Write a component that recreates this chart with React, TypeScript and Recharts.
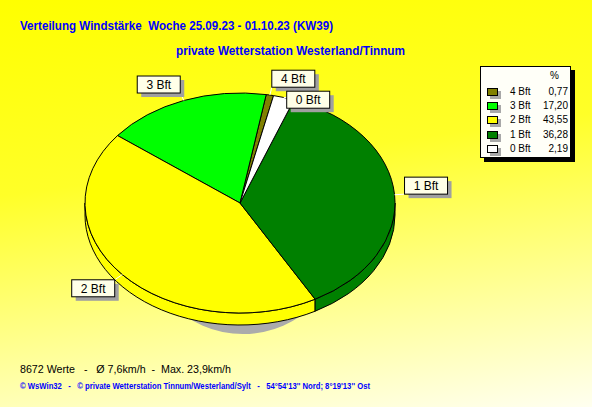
import { PieChart, Pie, Cell, Legend } from 'recharts';

// Windstärke-Verteilung KW39, Anteile in %
const CATEGORIES = ['4 Bft', '3 Bft', '2 Bft', '1 Bft', '0 Bft'];
const PERCENTS = [0.77, 17.2, 43.55, 36.28, 2.19];
const COLORS = ['#808000', '#00FF00', '#FFFF00', '#008000', '#FFFFFF'];

const TITLE = 'Verteilung Windstärke  Woche 25.09.23 - 01.10.23 (KW39)';
const SUBTITLE = 'private Wetterstation Westerland/Tinnum';
const STATS = '8672 Werte   -   Ø 7,6km/h  -  Max. 23,9km/h';
const COPYRIGHT =
  "© WsWin32   -   © private Wetterstation Tinnum/Westerland/Sylt   -   54°54'13'' Nord; 8°19'13'' Ost";

const W = 592;
const H = 407;
const CX = 240;
const CY = 203;
const RX = 155;
const RY_RATIO = 110 / 155;
const DEPTH = 12;
const START = 77.5;
const BOX_W = 43;
const BOX_H = 17;

const data = CATEGORIES.map((name, i) => ({ name, value: PERCENTS[i], color: COLORS[i] }));

const rad = (a: number) => (a * Math.PI) / 180;

// elliptical sector with a visible side wall on the front half
function EllipseSector(props: any) {
  const { cx, cy, outerRadius, startAngle, endAngle, fill } = props;
  const rx = outerRadius;
  const ry = outerRadius * RY_RATIO;
  const p = (a: number, dy = 0) =>
    `${cx + rx * Math.cos(rad(a))},${cy - ry * Math.sin(rad(a)) + dy}`;
  const lo = Math.min(startAngle, endAngle);
  const hi = Math.max(startAngle, endAngle);
  const large = hi - lo > 180 ? 1 : 0;
  const top = `M${cx},${cy} L${p(lo)} A${rx},${ry} 0 ${large} 0 ${p(hi)} Z`;
  const sides: string[] = [];
  for (let k = -360; k <= 720; k += 360) {
    const a1 = Math.max(lo, k + 180);
    const a2 = Math.min(hi, k + 360);
    if (a2 > a1) {
      sides.push(
        `M${p(a1)} A${rx},${ry} 0 0 0 ${p(a2)} L${p(a2, DEPTH)} A${rx},${ry} 0 0 1 ${p(a1, DEPTH)} Z`
      );
    }
  }
  return (
    <g>
      {sides.map((d, i) => (
        <path key={i} d={d} fill={fill} stroke="#000" strokeWidth={1} />
      ))}
      <path d={top} fill={fill} stroke="#000" strokeWidth={1} />
    </g>
  );
}

// label boxes: placed outside the rim, pushed down when they collide
function layoutLabels() {
  const total = PERCENTS.reduce((s, v) => s + v, 0);
  const ry = RX * RY_RATIO;
  let a = START;
  const boxes: { x: number; y: number; rimX: number; rimY: number }[] = [];
  PERCENTS.forEach((v) => {
    const sweep = (v / total) * 360;
    const mid = a + sweep / 2;
    a += sweep;
    const c = Math.cos(rad(mid));
    const s = Math.sin(rad(mid));
    const ex = CX + (RX + 10) * c;
    const ey = CY - (ry + 8) * s;
    const x = c >= 0 ? ex : ex - BOX_W;
    let y = s >= 0 ? ey - BOX_H : ey;
    for (const b of boxes) {
      if (x < b.x + BOX_W && x + BOX_W > b.x && y < b.y + BOX_H && y + BOX_H > b.y) {
        y = b.y + BOX_H + 4;
      }
    }
    boxes.push({ x, y, rimX: CX + RX * c, rimY: CY - ry * s });
  });
  return boxes;
}

const LABEL_BOXES = layoutLabels();

function renderLabel(props: any) {
  const { index } = props;
  const b = LABEL_BOXES[index];
  const lx = Math.min(Math.max(b.rimX, b.x), b.x + BOX_W);
  const ly = Math.min(Math.max(b.rimY, b.y), b.y + BOX_H);
  return (
    <g key={`label-${index}`}>
      <line x1={b.rimX} y1={b.rimY} x2={lx} y2={ly} stroke="#FFFFFF" strokeWidth={1} />
      <rect x={b.x + 4} y={b.y + 4} width={BOX_W} height={BOX_H} fill="#A0A0A0" />
      <rect x={b.x} y={b.y} width={BOX_W} height={BOX_H} fill="#FFFFE8" stroke="#000" strokeWidth={1} />
      <text
        x={b.x + BOX_W / 2}
        y={b.y + 13}
        textAnchor="middle"
        fontFamily="'Liberation Sans', Arial, sans-serif"
        fontSize={12}
        fill="#000"
      >
        {CATEGORIES[index]}
      </text>
    </g>
  );
}

function renderLegend() {
  return (
    <div
      style={{
        position: 'relative',
        width: 89,
        height: 90,
        background: '#FFFFF8',
        border: '1px solid #000',
        boxShadow: '4px 4px 0 #000',
        fontFamily: "'Liberation Sans', Arial, sans-serif",
        fontSize: 10,
        color: '#000',
      }}
    >
      <div style={{ position: 'absolute', top: 2, right: 11, lineHeight: '14px' }}>%</div>
      {data.map((d, i) => (
        <div
          key={d.name}
          style={{ position: 'absolute', top: 18 + i * 14.2, left: 0, width: 89, height: 14, lineHeight: '14px' }}
        >
          <div
            style={{
              position: 'absolute',
              left: 6,
              top: 3,
              width: 9,
              height: 6,
              background: d.color,
              border: '1px solid #000',
              boxShadow: '3px 3px 0 #A8A8A8',
            }}
          />
          <span style={{ position: 'absolute', left: 29 }}>{d.name}</span>
          <span style={{ position: 'absolute', right: 2 }}>{d.value.toFixed(2).replace('.', ',')}</span>
        </div>
      ))}
    </div>
  );
}

export default function App() {
  return (
    <div
      style={{
        position: 'absolute',
        left: 0,
        top: 0,
        width: W,
        height: H,
        overflow: 'hidden',
        background: 'linear-gradient(172deg, #FFFF00 0%, #FFFF28 40%, #FFFFF0 100%)',
      }}
    >
      <svg width={W} height={H} style={{ position: 'absolute', left: 0, top: 0 }}>
        <ellipse cx={CX + 3} cy={CY + 21} rx={105} ry={110} fill="#ABABAB" />
      </svg>
      <div style={{ position: 'absolute', left: 0, top: 0 }}>
        <PieChart width={W} height={H} margin={{ top: 0, right: 0, bottom: 0, left: 0 }}>
          <Pie
            data={data}
            dataKey="value"
            nameKey="name"
            cx={CX}
            cy={CY}
            innerRadius={0}
            outerRadius={RX}
            startAngle={START}
            endAngle={START + 360}
            stroke="#000"
            shape={EllipseSector}
            label={renderLabel}
            labelLine={false}
            isAnimationActive={false}
          >
            {data.map((entry, index) => (
              <Cell key={`cell-${index}`} fill={entry.color} />
            ))}
          </Pie>
          <Legend
            layout="vertical"
            align="right"
            verticalAlign="top"
            content={renderLegend}
            wrapperStyle={{ position: 'absolute', left: 480, top: 66, width: 91, height: 92 }}
          />
        </PieChart>
      </div>
      <svg width={W} height={H} style={{ position: 'absolute', left: 0, top: 0, pointerEvents: 'none' }}>
        <g fontFamily="'Liberation Sans', Arial, sans-serif">
          <text x={20} y={29.5} xmlSpace="preserve" style={{ whiteSpace: 'pre' }} fontSize={12.5} fontWeight="bold" fill="#0000FF" textLength={313} lengthAdjust="spacingAndGlyphs">
            {TITLE}
          </text>
          <text x={176} y={54.5} xmlSpace="preserve" style={{ whiteSpace: 'pre' }} fontSize={12.5} fontWeight="bold" fill="#0000FF" textLength={229} lengthAdjust="spacingAndGlyphs">
            {SUBTITLE}
          </text>
          <text x={20} y={373} xmlSpace="preserve" style={{ whiteSpace: 'pre' }} fontSize={11} fill="#000" textLength={211} lengthAdjust="spacingAndGlyphs">
            {STATS}
          </text>
          <text x={20} y={389} xmlSpace="preserve" style={{ whiteSpace: 'pre' }} fontSize={8.5} fontWeight="bold" fill="#0000FF" textLength={350} lengthAdjust="spacingAndGlyphs">
            {COPYRIGHT}
          </text>
        </g>
      </svg>
    </div>
  );
}
